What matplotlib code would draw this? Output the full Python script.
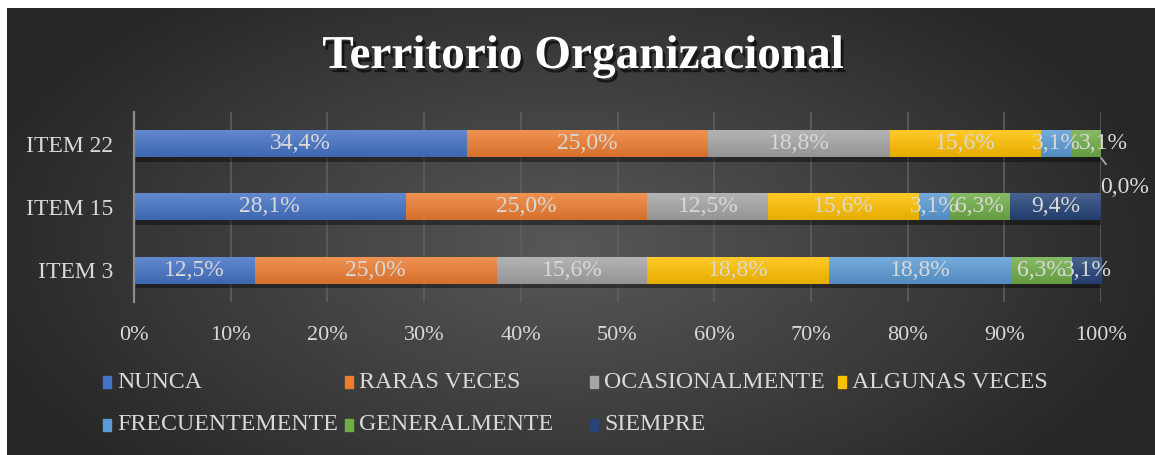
import numpy as np
import matplotlib
matplotlib.use("Agg")
import matplotlib.pyplot as plt
import matplotlib.patheffects as pe
from matplotlib.patches import Rectangle
from matplotlib.colors import to_rgb

categories = ["ITEM 3", "ITEM 15", "ITEM 22"]
series_names = ["NUNCA", "RARAS VECES", "OCASIONALMENTE", "ALGUNAS VECES",
                "FRECUENTEMENTE", "GENERALMENTE", "SIEMPRE"]
nunca = [12.5, 28.1, 34.4]
raras_veces = [25.0, 25.0, 25.0]
ocasionalmente = [15.6, 12.5, 18.8]
algunas_veces = [18.8, 15.6, 15.6]
frecuentemente = [18.8, 3.1, 3.1]
generalmente = [6.3, 6.3, 3.1]
siempre = [3.1, 9.4, 0.0]
series_values = [nunca, raras_veces, ocasionalmente, algunas_veces,
                 frecuentemente, generalmente, siempre]
colors = ["#4472C4", "#ED7D31", "#A5A5A5", "#FFC000", "#5B9BD5", "#70AD47", "#264478"]
xticks = [0, 10, 20, 30, 40, 50, 60, 70, 80, 90, 100]
title = "Territorio Organizacional"

W, H = 1155, 455
fig = plt.figure(figsize=(W / 100, H / 100), dpi=100, facecolor="white")
plt.rcParams["font.family"] = ["Liberation Serif", "DejaVu Serif"]

# background radial gradient
bg = fig.add_axes([7 / W, 0, 1 - 7 / W, 1 - 8 / H])
bg.set_axis_off()
yy, xx = np.mgrid[0:447, 0:1148]
cx, cy = 560, 240
r = np.sqrt(((xx - cx) / 620.0) ** 2 + ((yy - cy) / 330.0) ** 2)
r = np.clip(r, 0, 1)
c0, c1 = np.array([0x58, 0x58, 0x58]), np.array([0x26, 0x26, 0x26])
img = (c0[None, None, :] * (1 - r[..., None]) + c1[None, None, :] * r[..., None]) / 255.0
bg.imshow(img, aspect="auto", extent=[0, 1, 0, 1], interpolation="bilinear")

ax = fig.add_axes([134 / W, 1 - 302 / H, (1101 - 134) / W, (302 - 112) / H])
ax.patch.set_alpha(0)
txtc = "#d9d9d9"
y = np.arange(len(categories))
bh = 27 / 64.5
left = np.zeros(len(categories))
shadow = [pe.withSimplePatchShadow(offset=(1.5, -3.5), shadow_rgbFace="black", alpha=0.4)]
t = np.linspace(0, 1, 32)[:, None]
for name, vals, col in zip(series_names, series_values, colors):
    vals = np.array(vals)
    bars = ax.barh(y, vals, left=left, height=bh, color=col, label=name, zorder=3,
                   linewidth=0)
    base = np.array(to_rgb(col))
    top = base + (1 - base) * 0.16
    bot = base * 0.9
    grad = (top[None, :] * (1 - t) + bot[None, :] * t)[:, None, :]
    for b in bars:
        b.set_path_effects(shadow)
        if b.get_width() > 0:
            x0, y0, w, h = b.get_x(), b.get_y(), b.get_width(), b.get_height()
            ax.imshow(grad, extent=[x0, x0 + w, y0, y0 + h], origin="upper",
                      aspect="auto", zorder=3.5, interpolation="bilinear")
    left = left + vals

# data labels
label_shift = {(2, 5): 1.8}
left = np.zeros(len(categories))
for si, vals in enumerate(series_values):
    for ci, v in enumerate(vals):
        lbl = f"{v:.1f}%".replace(".", ",")
        if v > 0:
            xc = left[ci] + v / 2 + label_shift.get((ci, si), 0)
            ax.text(xc, y[ci], lbl, ha="center", va="center", color=txtc,
                    fontsize=17, zorder=5)
        else:
            ax.annotate(lbl, xy=(left[ci], y[ci] - 0.225), xytext=(102.4, y[ci] - 0.69),
                        ha="center", va="center", color=txtc, fontsize=17,
                        arrowprops=dict(arrowstyle="-", color="#a6a6a6", lw=1.3,
                                        shrinkA=9, shrinkB=0),
                        annotation_clip=False, zorder=5)
        left[ci] += v

ax.set_xlim(0, 100)
ax.set_ylim(-0.5, 2.5)
ax.set_xticks(xticks)
ax.set_xticklabels([f"{t}%" for t in xticks])
ax.set_yticks(y)
ax.set_yticklabels(categories)
ax.tick_params(axis="both", length=0, colors=txtc, labelsize=16)
ax.tick_params(axis="y", labelsize=17)
ax.tick_params(axis="x", pad=17)
ax.tick_params(axis="y", pad=15)
ax.grid(axis="x", color="#5e5e5e", lw=1.2, zorder=0)
for s in ["top", "right", "bottom"]:
    ax.spines[s].set_visible(False)
ax.spines["left"].set_color("#8c8c8c")
ax.spines["left"].set_linewidth(1.6)
ax.spines["left"].set_zorder(4)

fig.text(583 / W, 1 - 68 / H, title, ha="center", va="baseline", color="white",
         fontsize=34, fontweight="bold",
         path_effects=[pe.withSimplePatchShadow(offset=(2, -3), shadow_rgbFace="black", alpha=0.6)])

# legend
leg_x = [103, 345, 590, 838, 103, 345, 590]
leg_y = [382, 382, 382, 382, 425, 425, 425]
for name, col, lx, ly in zip(series_names, colors, leg_x, leg_y):
    fig.patches.append(Rectangle((lx / W, 1 - (ly + 6) / H), 8 / W, 12 / H,
                                 transform=fig.transFigure, color=col))
    fig.text((lx + 14) / W, 1 - ly / H, name, ha="left", va="center",
             color=txtc, fontsize=17.2)

fig.savefig("out.png", dpi=100, facecolor="white")
